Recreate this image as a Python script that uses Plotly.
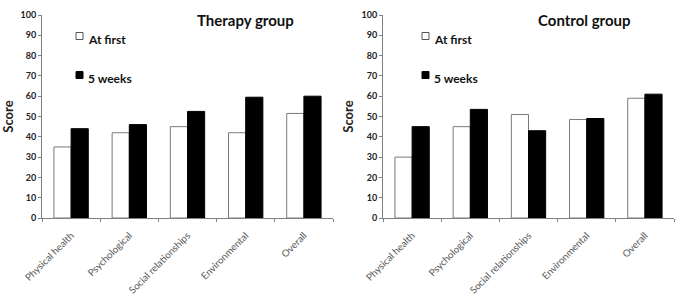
import plotly.graph_objects as go

categories = ["Physical health", "Psychological", "Social relationships", "Environmental", "Overall"]
therapy_first = [35, 42, 45, 42, 51.5]
therapy_5wk = [44, 46, 52.5, 59.5, 60]
control_first = [30, 45, 51, 48.5, 59]
control_5wk = [45, 53.5, 43, 49, 61]
y_ticks = [0, 10, 20, 30, 40, 50, 60, 70, 80, 90, 100]
titles = ["Therapy group", "Control group"]
series_names = ["At first", "5 weeks"]

FONT = "Lato"
W, H = 677, 306

fig = go.Figure()

white_style = dict(color="white", line=dict(color="#7a7a7a", width=1))
black_style = dict(color="black", line=dict(color="black", width=1))

fig.add_trace(go.Bar(x=categories, y=therapy_first, name=series_names[0], marker=white_style,
                     xaxis="x", yaxis="y", showlegend=False))
fig.add_trace(go.Bar(x=categories, y=therapy_5wk, name=series_names[1], marker=black_style,
                     xaxis="x", yaxis="y", showlegend=False))
fig.add_trace(go.Bar(x=categories, y=control_first, name=series_names[0], marker=white_style,
                     xaxis="x2", yaxis="y2", showlegend=False))
fig.add_trace(go.Bar(x=categories, y=control_5wk, name=series_names[1], marker=black_style,
                     xaxis="x2", yaxis="y2", showlegend=False))

ydom = [(H - 218) / H, (H - 15) / H]
xdom1 = [42 / W, 333 / W]
xdom2 = [383 / W, 674 / W]

xcommon = dict(type="category", showline=True, linecolor="#808080", linewidth=1, automargin=False,
               ticks="outside", tickson="boundaries", ticklen=3, tickcolor="#808080",
               tickangle=-45, ticklabelstandoff=7,
               tickfont=dict(family=FONT, size=9.8, color="#5a5a5a"),
               showgrid=False, zeroline=False)
ycommon = dict(range=[0, 100], tickvals=y_ticks, showline=True, linecolor="#808080", linewidth=1,
               automargin=False, ticks="outside", ticklen=3, tickcolor="#808080",
               tickfont=dict(family=FONT, size=9, color="#222222", weight="bold"),
               showgrid=False, zeroline=False,
               title=dict(text="Score", font=dict(family=FONT, size=13, color="#222222", weight="bold"),
                          standoff=4))

fig.update_layout(
    width=W, height=H,
    margin=dict(l=0, r=0, t=0, b=0),
    paper_bgcolor="white", plot_bgcolor="white",
    barmode="group", bargap=0.41, bargroupgap=0,
    xaxis=dict(domain=xdom1, anchor="y", **xcommon),
    yaxis=dict(domain=ydom, anchor="x", **ycommon),
    xaxis2=dict(domain=xdom2, anchor="y2", **xcommon),
    yaxis2=dict(domain=ydom, anchor="x2", **ycommon),
    showlegend=False,
)

# titles
for t, xc in zip(titles, [245, 584]):
    fig.add_annotation(text="<b>" + t + "</b>", x=xc / W, y=1 - 20 / H, xref="paper", yref="paper",
                       xanchor="center", yanchor="middle", showarrow=False,
                       font=dict(family=FONT, size=15, color="#111111"))

# legends (square swatch + label), one per panel
legend_pos = [(76, 36), (422, 36)]
fills = ["white", "black"]
lines = ["#555555", "black"]
for (lx, ly) in legend_pos:
    for i, name in enumerate(series_names):
        cy = ly + i * 39
        fig.add_shape(type="rect", xref="paper", yref="paper",
                      x0=lx / W, x1=(lx + 7) / W, y0=1 - (cy + 3.5) / H, y1=1 - (cy - 3.5) / H,
                      fillcolor=fills[i], line=dict(color=lines[i], width=1))
        fig.add_annotation(text="<b>" + name + "</b>", x=(lx + 10) / W, y=1 - (cy + 3) / H,
                           xref="paper", yref="paper", xanchor="left", yanchor="middle",
                           showarrow=False, font=dict(family=FONT, size=12, color="#111111"))

fig.write_html("out.html")
